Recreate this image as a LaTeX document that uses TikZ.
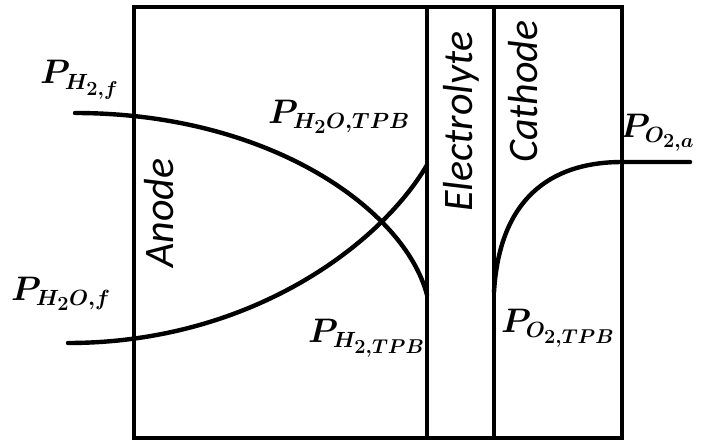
\RequirePackage{fix-cm}
\documentclass[tikz,border=0pt]{standalone}
\usepackage{fontspec}
\setsansfont{Carlito}
\usepackage{bm}
\DeclareMathSizes{34}{34}{22}{20}
\usepackage{tikz}
\usetikzlibrary{positioning}
\tikzset{
  wall/.style    = {line width=4pt, draw=black},
  prof/.style    = {line width=4.4pt, draw=black, line cap=round},
  region/.style  = {rotate=90, anchor=base west, inner sep=0pt,
                    font=\sffamily\itshape\fontsize{42}{46}\selectfont},
  plabel/.style  = {anchor=base west, inner sep=0pt,
                    font=\fontsize{34}{38}\selectfont}
}

\begin{document}
\begin{tikzpicture}[x=1pt,y=-1pt]
  \useasboundingbox (0,0) rectangle (709,444);
  % cell walls
  \coordinate (tl) at (134,7);
  \coordinate (br) at (622,438);
  \draw[wall] (tl) rectangle (br);
  \coordinate (elt) at (427,7);   \coordinate (elb) at (427,438);
  \coordinate (ert) at (494,7);   \coordinate (erb) at (494,438);
  \draw[wall] (elt) -- (elb);
  \draw[wall] (ert) -- (erb);

  % partial pressure profiles
  \coordinate (h2f)   at (75,113);
  \coordinate (h2tpb) at (427,295);
  \coordinate (wf)    at (68,343);
  \coordinate (wtpb)  at (427,165);
  \coordinate (o2tpb) at (494,292);
  \coordinate (o2b)   at (622,162);
  \coordinate (o2a)   at (690,162);
  \draw[prof] (h2f) .. controls (270,113) and (405,210) .. (h2tpb);
  \draw[prof] (wf) .. controls (250,343) and (380,245) .. (wtpb);
  \draw[prof] (o2tpb) .. controls (500,190) and (560,162) .. (o2b) -- (o2a);

  % regions
  \node[region] (anode) at (173,268) {Anode};
  \node[region] (elyte) at (472,212) {Electrolyte};
  \node[region] (cath)  at (537,163) {Cathode};

  % labels
  \node[plabel] (lh2f)   at (40,84)   {$\bm{P_{H_{2,f}}}$};
  \node[plabel] (lwtpb)  at (268,123) {$\bm{P_{H_2O,TPB}}$};
  \node[plabel] (lwf)    at (11,300)  {$\bm{P_{H_2O,f}}$};
  \node[plabel] (lh2tpb) at (308,342) {$\bm{P_{H_{2,TPB}}}$};
  \node[plabel] (lo2tpb) at (501,332) {$\bm{P_{O_{2,TPB}}}$};
  \node[plabel] (lo2a)   at (620,137) {$\bm{P_{O_{2,a}}}$};
\end{tikzpicture}
\end{document}
